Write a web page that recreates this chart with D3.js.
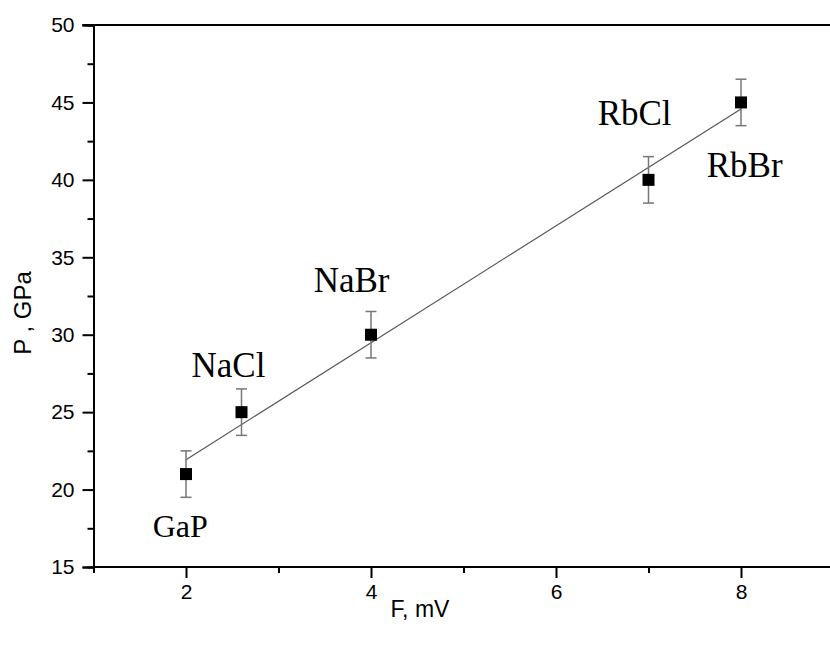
<!DOCTYPE html>
<html>
<head>
<meta charset="utf-8">
<script src="https://cdn.jsdelivr.net/npm/d3@7"></script>
<style>
  body { margin: 0; background: #fff; }
  svg { display: block; }
</style>
</head>
<body>
<svg id="chart" width="830" height="647"></svg>
<script>
// Data
const compounds = ["GaP", "NaCl", "NaBr", "RbCl", "RbBr"];
const fValues = [2, 2.6, 4, 7, 8];
const pValues = [21, 25, 30, 40, 45];
const pErrors = [1.5, 1.5, 1.5, 1.5, 1.5];
const xTickValues = [2, 4, 6, 8];
const xMinorTicks = [1, 3, 5, 7, 9];
const yTickValues = [15, 20, 25, 30, 35, 40, 45, 50];
const yMinorTicks = [17.5, 22.5, 27.5, 32.5, 37.5, 42.5, 47.5];
// label anchor positions in data units (F, P)
const labelF = [1.64, 2.06, 3.38, 6.45, 7.63];
const labelP = [16.94, 27.27, 32.76, 43.54, 40.18];
const labelSize = [32, 35, 35, 35, 35];

const svg = d3.select("#chart");
const x = d3.scaleLinear().domain([1, 9]).range([93.5, 833.5]);
const y = d3.scaleLinear().domain([15, 50]).range([567, 25]);

const axisFont = "Liberation Sans, Arial, sans-serif";

const gx = svg.append("g").attr("transform", `translate(0,${y(15)})`);
gx.call(d3.axisBottom(x).tickValues(xMinorTicks).tickSize(6).tickFormat(""));
gx.append("g").call(d3.axisBottom(x).tickValues(xTickValues).tickSize(11).tickPadding(6).tickFormat(d3.format("d")));
gx.selectAll("path.domain").attr("stroke", "#000").attr("stroke-width", 2).attr("d", `M${x(1)},0H830`);
gx.selectAll("line").attr("stroke", "#000").attr("stroke-width", 2);
gx.selectAll("g").attr("font-size", null);
gx.selectAll("text").style("font-family", axisFont).style("font-size", "21px").attr("fill", "#000");

const gy = svg.append("g").attr("transform", `translate(${x(1)},0)`);
gy.call(d3.axisLeft(y).tickValues(yMinorTicks).tickSize(6).tickFormat(""));
gy.append("g").call(d3.axisLeft(y).tickValues(yTickValues).tickSize(11).tickPadding(8).tickFormat(d3.format("d")));
gy.selectAll("path.domain").attr("stroke", "#000").attr("stroke-width", 2);
gy.selectAll("line").attr("stroke", "#000").attr("stroke-width", 2);
gy.selectAll("text").style("font-family", axisFont).style("font-size", "21px").attr("fill", "#000");

// Top border
svg.append("line").attr("x1", x(1) - 11).attr("x2", 830).attr("y1", y(50)).attr("y2", y(50))
  .attr("stroke", "#000").attr("stroke-width", 2);

// Linear fit (least squares)
const n = fValues.length;
const mx = d3.mean(fValues), my = d3.mean(pValues);
let sxy = 0, sxx = 0;
for (let i = 0; i < n; i++) { sxy += (fValues[i]-mx)*(pValues[i]-my); sxx += (fValues[i]-mx)**2; }
const slope = sxy / sxx, intercept = my - slope * mx;
const fx = d3.extent(fValues);
svg.append("line")
  .attr("x1", x(fx[0])).attr("y1", y(intercept + slope*fx[0]))
  .attr("x2", x(fx[1])).attr("y2", y(intercept + slope*fx[1]))
  .attr("stroke", "#555").attr("stroke-width", 1.2);

// Error bars
const eb = svg.append("g").attr("stroke", "#777").attr("stroke-width", 1.5);
fValues.forEach((f, i) => {
  const cx = x(f), top = y(pValues[i] + pErrors[i]), bot = y(pValues[i] - pErrors[i]);
  eb.append("line").attr("x1", cx).attr("x2", cx).attr("y1", top).attr("y2", bot);
  eb.append("line").attr("x1", cx-5.5).attr("x2", cx+5.5).attr("y1", top).attr("y2", top);
  eb.append("line").attr("x1", cx-5.5).attr("x2", cx+5.5).attr("y1", bot).attr("y2", bot);
});

// Markers
svg.append("g").selectAll("rect").data(fValues).join("rect")
  .attr("x", d => x(d) - 6).attr("y", (d, i) => y(pValues[i]) - 6)
  .attr("width", 12).attr("height", 12).attr("fill", "#000");

// Labels
svg.append("g").selectAll("text").data(compounds).join("text")
  .attr("x", (d, i) => x(labelF[i]))
  .attr("y", (d, i) => y(labelP[i]))
  .style("font-family", "Liberation Serif, Times New Roman, serif")
  .style("font-size", (d, i) => labelSize[i] + "px")
  .attr("fill", "#000")
  .text(d => d);

// Axis titles
svg.append("text").attr("x", 420).attr("y", 617).attr("text-anchor", "middle")
  .style("font-family", axisFont).style("font-size", "23px").attr("fill", "#000").text("F, mV");
svg.append("text").attr("transform", "translate(31,313) rotate(-90)").attr("text-anchor", "middle")
  .style("font-family", axisFont).style("font-size", "24px").attr("fill", "#000").text("P , GPa");
</script>
</body>
</html>
